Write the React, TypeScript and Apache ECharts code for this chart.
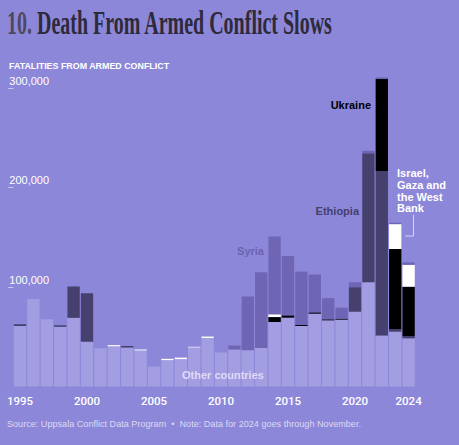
import { useEffect, useRef } from "react";
import * as echarts from "echarts";

// Fatalities from armed conflict, stacked by conflict (UCDP).
const YEARS = [
  "1995", "1996", "1997", "1998", "1999", "2000", "2001", "2002", "2003", "2004",
  "2005", "2006", "2007", "2008", "2009", "2010", "2011", "2012", "2013", "2014",
  "2015", "2016", "2017", "2018", "2019", "2020", "2021", "2022", "2023", "2024",
];
const OTHER = [
  60800, 88000, 67500, 60000, 69000, 45000, 38400, 40400, 39200, 36200,
  20000, 26500, 27500, 39200, 48800, 34200, 37200, 36500, 38800, 64800,
  69200, 60800, 73200, 66500, 67200, 75200, 104700, 51200, 55100, 48400,
];
const ETHIOPIA = [
  1700, 0, 0, 1500, 31500, 48700, 0, 0, 1500, 0,
  0, 0, 0, 0, 0, 0, 0, 0, 0, 0,
  0, 0, 0, 0, 0, 24600, 129700, 165300, 2400, 2300,
];
const UKRAINE = [
  0, 0, 0, 0, 0, 0, 0, 0, 0, 0,
  0, 0, 0, 0, 0, 0, 0, 0, 0, 5000,
  2300, 1000, 1300, 1000, 1000, 0, 0, 92500, 80700, 49600,
];
const ISRAEL = [
  0, 0, 0, 0, 0, 0, 0, 1200, 0, 1000,
  0, 1300, 1500, 700, 1400, 0, 0, 0, 0, 2700,
  0, 0, 0, 0, 0, 0, 0, 0, 25000, 22000,
];
const SYRIA = [
  0, 0, 0, 0, 0, 0, 0, 0, 0, 0,
  0, 0, 0, 0, 0, 0, 4000, 54000, 76000, 78300,
  59700, 53700, 38000, 21300, 11000, 5000, 2500, 1600, 1300, 2400,
];
const Y_TICKS = [100000, 200000, 300000];
const X_LABELS = ["1995", "2000", "2005", "2010", "2015", "2020", "2024"];

const BG = "#8d87d9";
const SANS = "'Liberation Sans', Arial, sans-serif";
const SERIF = "'Liberation Serif', 'Times New Roman', serif";

const TITLE_NUM = "10.";
const TITLE_TEXT = " Death From Armed Conflict Slows";

function measure(text: string, font: string): number {
  const ctx = document.createElement("canvas").getContext("2d");
  if (!ctx) return text.length * 10;
  ctx.font = font;
  return ctx.measureText(text).width;
}

export default function App() {
  const elRef = useRef<HTMLDivElement | null>(null);

  useEffect(() => {
    document.body.style.margin = "0";
    if (!elRef.current) return;
    const chart = echarts.init(elRef.current, undefined, { renderer: "svg" });

    // Condensed headline: squeeze a bold serif into the reference width.
    const titleFont = `bold 34px ${SERIF}`;
    const wNum = measure(TITLE_NUM, titleFont);
    const wAll = measure(TITLE_NUM + TITLE_TEXT, titleFont);
    const sx = 326 / wAll;

    const bar = (name: string, data: number[], color: string) => ({
      name,
      type: "bar",
      stack: "total",
      data,
      clip: false,
      barCategoryGap: "8%",
      itemStyle: { color },
      emphasis: { disabled: true },
    });

    const label = (text: string, x: number, y: number, fill: string, align = "left") => ({
      type: "text",
      z: 100,
      x,
      y,
      style: {
        text,
        fill,
        align,
        verticalAlign: "middle",
        fontFamily: SANS,
        fontWeight: "bold",
        fontSize: 11,
      },
    });

    chart.setOption({
      animation: false,
      backgroundColor: BG,
      grid: { left: 13.3, right: 43.7, top: 88, bottom: 58.5 },
      xAxis: {
        type: "category",
        data: YEARS,
        axisLine: { show: false },
        axisTick: {
          alignWithLabel: true,
          length: 7,
          interval: (_i: number, v: string) => X_LABELS.includes(v),
          lineStyle: { color: "#cdc9f1", width: 1 },
        },
        axisLabel: {
          interval: (_i: number, v: string) => X_LABELS.includes(v),
          color: "#ffffff",
          fontFamily: "Roboto, " + SANS,
          fontWeight: 500,
          fontSize: 11.5,
          margin: 8,
        },
      },
      yAxis: {
        type: "value",
        min: 0,
        max: 300000,
        interval: 100000,
        splitLine: { show: false },
        axisLine: { show: false },
        axisTick: {
          show: true,
          length: 5,
          customValues: Y_TICKS,
          lineStyle: { color: "#cdc9f1", width: 1 },
        },
        axisLabel: {
          inside: true,
          margin: -4,
          customValues: Y_TICKS,
          verticalAlign: "bottom",
          padding: [0, 0, 2, 0],
          color: "#ffffff",
          fontFamily: SANS,
          fontSize: 11,
          formatter: (v: number) => v.toLocaleString("en-US"),
        },
      },
      series: [
        bar("Other countries", OTHER, "#a39ee2"),
        bar("Ethiopia", ETHIOPIA, "#45406d"),
        bar("Ukraine", UKRAINE, "#000000"),
        bar("Israel, Gaza and the West Bank", ISRAEL, "#ffffff"),
        bar("Syria", SYRIA, "#6e66b4"),
      ],
      graphic: [
        {
          type: "text",
          z: 100,
          x: 7,
          y: 22,
          scaleX: sx,
          style: {
            text: TITLE_NUM,
            fill: "#4d4962",
            font: titleFont,
            verticalAlign: "middle",
          },
        },
        {
          type: "text",
          z: 100,
          x: 7 + wNum * sx,
          y: 22,
          scaleX: sx,
          style: {
            text: TITLE_TEXT,
            fill: "#2d2a3a",
            font: titleFont,
            verticalAlign: "middle",
          },
        },
        {
          type: "text",
          z: 100,
          x: 9,
          y: 66,
          style: {
            text: "FATALITIES FROM ARMED CONFLICT",
            fill: "#ffffff",
            fontFamily: SANS,
            fontWeight: "bold",
            fontSize: 8.9,
            verticalAlign: "middle",
          },
        },
        label("Ukraine", 371, 104.5, "#000000", "right"),
        label("Ethiopia", 359, 211, "#45406d", "right"),
        label("Syria", 264, 251, "#6b63b0", "right"),
        label("Other countries", 182, 375, "#dedaf7"),
        {
          type: "text",
          z: 100,
          x: 397,
          y: 167,
          style: {
            text: "Israel,\nGaza and\nthe West\nBank",
            fill: "#ffffff",
            fontFamily: SANS,
            fontWeight: "bold",
            fontSize: 11,
            lineHeight: 11.8,
            verticalAlign: "top",
          },
        },
        {
          type: "polyline",
          z: 100,
          shape: { points: [[413.5, 215], [413.5, 236], [405, 236]] },
          style: { stroke: "#d6d3f3", lineWidth: 1, fill: "none" },
        },
        {
          type: "text",
          z: 100,
          x: 7,
          y: 424,
          style: {
            text: "Source: Uppsala Conflict Data Program  \u2022  Note: Data for 2024 goes through November.",
            fill: "#dcd9f5",
            fontFamily: SANS,
            fontSize: 9.1,
            verticalAlign: "middle",
          },
        },
      ],
    });

    return () => chart.dispose();
  }, []);

  return <div ref={elRef} style={{ width: 459, height: 445 }} />;
}
